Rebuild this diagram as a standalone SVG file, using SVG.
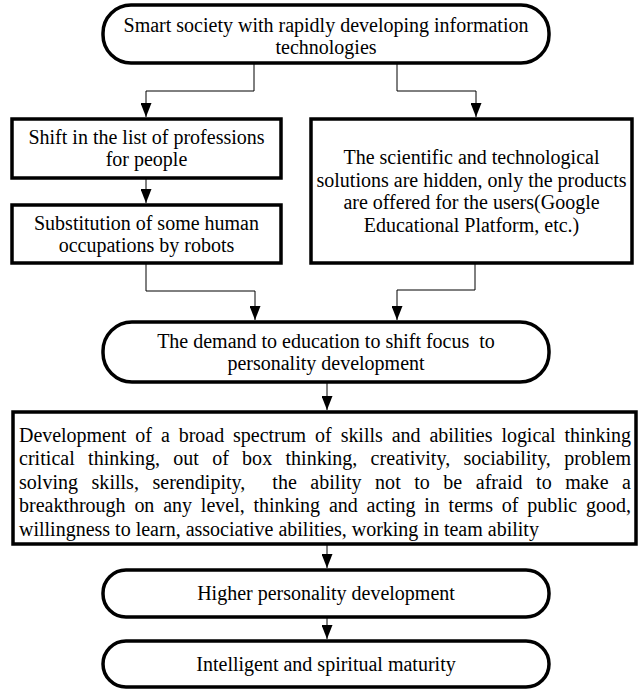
<svg xmlns="http://www.w3.org/2000/svg" width="642" height="689" viewBox="0 0 642 689">
  <defs>
    <marker id="arrow" markerUnits="userSpaceOnUse" markerWidth="14" markerHeight="11" viewBox="0 0 14 11" refX="14" refY="5.5" orient="auto">
      <path d="M0,0 L14,5.5 L0,11 z" fill="#000"/>
    </marker>
    <style>
      .box{fill:#fff;stroke:#000;stroke-width:3.5}
      .t{font-family:"Liberation Serif","Times New Roman",serif;font-size:20px;fill:#000}
      .c{text-anchor:middle}
      .link{fill:none;stroke:#000;stroke-width:1;marker-end:url(#arrow)}
    </style>
  </defs>
  <rect width="642" height="689" fill="#fff"/>

  <!-- connectors -->
  <g id="connectors">
    <path class="link" d="M254,64 V91 H146 V117"/>
    <path class="link" d="M397,64 V91 H476 V117"/>
    <path class="link" d="M146,178 V203"/>
    <path class="link" d="M146,263 V291 H255 V320"/>
    <path class="link" d="M475,263 V290 H397 V320"/>
    <path class="link" d="M327,382 V410"/>
    <path class="link" d="M327,544 V568"/>
    <path class="link" d="M327,617 V639"/>
  </g>

  <g id="smart-society">
    <rect class="box" x="103" y="5" width="446" height="58" rx="28"/>
    <text class="t c" x="326" y="31.5">Smart society with rapidly developing information</text>
    <text class="t c" x="326" y="53.5">technologies</text>
  </g>

  <g id="professions-shift">
    <rect class="box" x="12" y="119" width="269" height="59"/>
    <text class="t c" x="146.5" y="144">Shift in the list of professions</text>
    <text class="t c" x="146.5" y="166">for people</text>
  </g>

  <g id="robots-substitution">
    <rect class="box" x="12" y="205" width="269" height="58"/>
    <text class="t c" x="146.5" y="229.5">Substitution of some human</text>
    <text class="t c" x="146.5" y="251.5">occupations by robots</text>
  </g>

  <g id="hidden-solutions">
    <rect class="box" x="311" y="119" width="321" height="144"/>
    <text class="t c" x="471.5" y="164">The scientific and technological</text>
    <text class="t c" x="471.5" y="186.5">solutions are hidden, only the products</text>
    <text class="t c" x="471.5" y="209">are offered for the users(Google</text>
    <text class="t c" x="471.5" y="231.5">Educational Platform, etc.)</text>
  </g>

  <g id="education-demand">
    <rect class="box" x="103" y="322" width="446" height="60" rx="29"/>
    <text class="t c" x="326" y="347.5" xml:space="preserve">The demand to education to shift focus  to</text>
    <text class="t c" x="326" y="369.5">personality development</text>
  </g>

  <g id="skills-development">
    <rect class="box" x="13" y="412" width="623" height="132"/>
    <text class="t" x="19" y="441.5" word-spacing="4" textLength="612" lengthAdjust="spacing">Development of a broad spectrum of skills and abilities logical thinking</text>
    <text class="t" x="19" y="465" word-spacing="8.2" textLength="612" lengthAdjust="spacing">critical thinking, out of box thinking, creativity, sociability, problem</text>
    <text class="t" x="19" y="488.5" word-spacing="8.5" textLength="612" lengthAdjust="spacing" xml:space="preserve">solving skills, serendipity,  the ability not to be afraid to make a</text>
    <text class="t" x="19" y="512" word-spacing="3.8" textLength="612" lengthAdjust="spacing">breakthrough on any level, thinking and acting in terms of public good,</text>
    <text class="t" x="19" y="535.5">willingness to learn, associative abilities, working in team ability</text>
  </g>

  <g id="higher-development">
    <rect class="box" x="103" y="570" width="446" height="47" rx="23"/>
    <text class="t c" x="326" y="600">Higher personality development</text>
  </g>

  <g id="maturity">
    <rect class="box" x="103" y="641" width="446" height="46" rx="23"/>
    <text class="t c" x="326" y="670.5">Intelligent and spiritual maturity</text>
  </g>
</svg>
